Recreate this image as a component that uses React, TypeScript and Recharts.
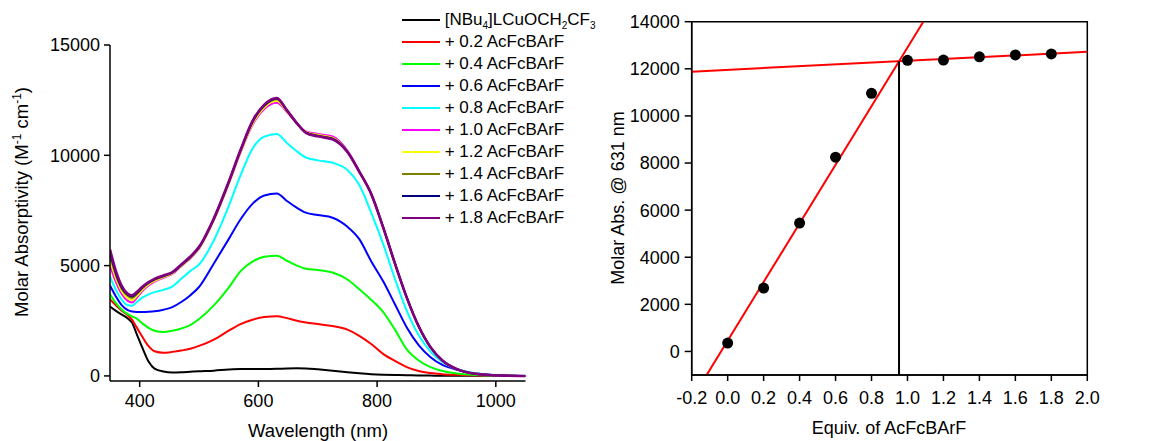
import React from "react";
import {
  LineChart,
  ComposedChart,
  Line,
  Scatter,
  XAxis,
  YAxis,
  Legend,
  Label,
  ReferenceArea,
} from "recharts";

// ---- left panel: UV-vis titration spectra ----
const wavelength = [
  350, 360, 370, 380, 387, 395, 405, 415, 425, 440, 455, 470, 485, 500, 525,
  550, 570, 590, 610, 631, 648, 665, 680, 700, 725, 750, 770, 790, 810, 830,
  850, 870, 890, 910, 935, 960, 990, 1020, 1050,
];

const eq00 = [3150, 2950, 2780, 2600, 2420, 1900, 1250, 650, 330, 200, 160, 170, 190, 210, 240, 290, 310, 310, 310, 320, 340, 350, 340, 300, 240, 170, 120, 80, 55, 40, 30, 20, 15, 10, 8, 5, 3, 0, 0];
const eq02 = [3470, 3200, 2950, 2750, 2550, 2200, 1750, 1350, 1120, 1050, 1090, 1150, 1230, 1360, 1650, 2050, 2350, 2550, 2670, 2700, 2620, 2500, 2420, 2350, 2260, 2100, 1820, 1450, 1000, 680, 400, 220, 130, 80, 50, 30, 15, 5, 0];
const eq04 = [3700, 3300, 3000, 2800, 2700, 2600, 2370, 2180, 2050, 1990, 2050, 2150, 2300, 2580, 3200, 4000, 4750, 5180, 5400, 5450, 5220, 5000, 4860, 4800, 4690, 4370, 3930, 3450, 2900, 2100, 1200, 700, 400, 220, 110, 50, 20, 5, 0];
const eq06 = [4100, 3600, 3200, 2980, 2920, 2900, 2900, 2910, 2930, 3000, 3120, 3350, 3650, 4030, 5100, 6200, 7100, 7800, 8180, 8270, 7930, 7620, 7400, 7290, 7170, 6760, 6200, 5200, 4300, 3250, 2200, 1400, 850, 500, 280, 130, 50, 15, 0];
const eq08 = [4500, 3900, 3450, 3200, 3180, 3350, 3560, 3700, 3800, 3900, 4050, 4400, 4750, 5050, 6150, 7700, 9100, 10300, 10850, 10970, 10560, 10180, 9900, 9770, 9660, 9330, 8650, 7400, 6000, 4400, 2950, 1850, 1100, 620, 300, 140, 50, 15, 0];
const eq10 = [5000, 4250, 3700, 3400, 3330, 3540, 3860, 4100, 4270, 4450, 4620, 4970, 5320, 5770, 7060, 8700, 10130, 11370, 12100, 12380, 11960, 11440, 11080, 10970, 10850, 10210, 9290, 8280, 6760, 5100, 3550, 2250, 1300, 700, 300, 120, 40, 10, 0];
const eq12 = [5250, 4420, 3830, 3520, 3430, 3620, 3920, 4150, 4310, 4480, 4650, 4990, 5340, 5790, 7080, 8720, 10160, 11420, 12170, 12470, 11990, 11440, 11060, 10930, 10790, 10180, 9270, 8260, 6750, 5100, 3550, 2250, 1300, 700, 300, 120, 40, 10, 0];
const eq14 = [5450, 4550, 3930, 3620, 3530, 3700, 3980, 4200, 4350, 4510, 4670, 5010, 5360, 5810, 7100, 8750, 10200, 11480, 12230, 12540, 12020, 11440, 11040, 10900, 10760, 10170, 9260, 8250, 6750, 5100, 3550, 2250, 1300, 700, 300, 120, 40, 10, 0];
const eq16 = [5600, 4650, 4000, 3680, 3600, 3760, 4020, 4230, 4380, 4530, 4690, 5030, 5380, 5830, 7120, 8780, 10230, 11520, 12270, 12580, 12040, 11450, 11030, 10880, 10740, 10160, 9260, 8250, 6750, 5100, 3550, 2250, 1300, 700, 300, 120, 40, 10, 0];
const eq18 = [5730, 4750, 4070, 3720, 3650, 3800, 4050, 4250, 4400, 4550, 4700, 5050, 5400, 5850, 7150, 8800, 10250, 11550, 12300, 12600, 12050, 11450, 11020, 10860, 10720, 10150, 9250, 8250, 6750, 5100, 3550, 2250, 1300, 700, 300, 120, 40, 10, 0];

const spectra = [eq00, eq02, eq04, eq06, eq08, eq10, eq12, eq14, eq16, eq18];
const seriesNames = [
  "[NBu4]LCuOCH2CF3",
  "+ 0.2 AcFcBArF",
  "+ 0.4 AcFcBArF",
  "+ 0.6 AcFcBArF",
  "+ 0.8 AcFcBArF",
  "+ 1.0 AcFcBArF",
  "+ 1.2 AcFcBArF",
  "+ 1.4 AcFcBArF",
  "+ 1.6 AcFcBArF",
  "+ 1.8 AcFcBArF",
];
const seriesColors = [
  "#000000", "#ff0000", "#00ff00", "#0000ff", "#00ffff",
  "#ff00ff", "#ffff00", "#808000", "#000080", "#800080",
];
const wlTicks = [400, 600, 800, 1000];
const epsTicks = [0, 5000, 10000, 15000];

// ---- right panel: titration curve ----
const equiv = [0.0, 0.2, 0.4, 0.6, 0.8, 1.0, 1.2, 1.4, 1.6, 1.8];
const absAt631 = [356, 2690, 5450, 8250, 10960, 12360, 12370, 12510, 12590, 12630];
const riseX = [-0.117, 1.088];
const riseY = [-1000, 14000];
const plateauX = [-0.2, 2.0];
const plateauY = [11880, 12720];
const endX = [0.953, 0.953];
const endY = [-1000, 12320];
const equivTicks = [-0.2, 0.0, 0.2, 0.4, 0.6, 0.8, 1.0, 1.2, 1.4, 1.6, 1.8, 2.0];
const absTicks = [0, 2000, 4000, 6000, 8000, 10000, 12000, 14000];

const FONT = "'Liberation Sans', Arial, sans-serif";
const tickStyle = { fontSize: 18, fill: "#000", fontFamily: FONT };

const spectraRows = wavelength.map((wl, i) => {
  const row: Record<string, number> = { wl };
  spectra.forEach((s, k) => (row["s" + k] = s[i]));
  return row;
});

const pairs = (xs: number[], ys: number[]) => xs.map((x, i) => ({ x, y: ys[i] }));
const points = pairs(equiv, absAt631);
const riseLine = pairs(riseX, riseY);
const plateauLine = pairs(plateauX, plateauY);
const endLine = pairs(endX, endY);

// digits after a letter or "]" become subscripts
function chem(s: string) {
  const parts = s.split(/(?<=[A-Za-z\]])(\d+)/);
  return parts.map((p, i) =>
    i % 2 === 1 ? (
      <sub key={i} style={{ fontSize: 10, lineHeight: 0, verticalAlign: -4 }}>
        {p}
      </sub>
    ) : (
      <React.Fragment key={i}>{p}</React.Fragment>
    )
  );
}

function SpectraLegend() {
  return (
    <div style={{ fontFamily: FONT, fontSize: 17, color: "#000", whiteSpace: "nowrap" }}>
      {seriesNames.map((n, i) => (
        <div key={n} style={{ display: "flex", alignItems: "center", height: 22 }}>
          <span
            style={{
              display: "inline-block",
              width: 38,
              height: 2,
              background: seriesColors[i],
              marginRight: 5,
            }}
          />
          <span>{chem(n)}</span>
        </div>
      ))}
    </div>
  );
}

export default function App() {
  return (
    <div
      style={{
        position: "absolute",
        left: 0,
        top: 0,
        width: 1156,
        height: 441,
        background: "#fff",
        fontFamily: FONT,
      }}
    >
      <div style={{ position: "absolute", left: 0, top: 0 }}>
        <LineChart
          width={600}
          height={441}
          data={spectraRows}
          margin={{ top: 45, right: 74.5, bottom: 10, left: 10 }}
        >
          <XAxis
            dataKey="wl"
            type="number"
            domain={[350, 1050]}
            ticks={wlTicks}
            allowDataOverflow
            height={50}
            tickSize={6}
            tickMargin={7}
            tick={tickStyle}
            stroke="#000"
            strokeWidth={1.5}
          >
            <Label
              content={() => (
                <text x={318} y={437} textAnchor="middle" fontSize={18.5} fill="#000" fontFamily={FONT}>
                  Wavelength (nm)
                </text>
              )}
            />
          </XAxis>
          <YAxis
            type="number"
            domain={[-230, 15000]}
            ticks={epsTicks}
            allowDataOverflow
            width={100}
            tickSize={6}
            tickMargin={4}
            tick={tickStyle}
            stroke="#000"
            strokeWidth={1.5}
          >
            <Label
              content={() => (
                <text
                  transform="translate(28,202) rotate(-90)"
                  textAnchor="middle"
                  fontSize={18.5}
                  fill="#000"
                  fontFamily={FONT}
                >
                  Molar Absorptivity (M
                  <tspan dy={-7} fontSize={12}>-1</tspan>
                  <tspan dy={7}> cm</tspan>
                  <tspan dy={-7} fontSize={12}>-1</tspan>
                  <tspan dy={7}>)</tspan>
                </text>
              )}
            />
          </YAxis>
          <Legend
            layout="vertical"
            align="center"
            verticalAlign="middle"
            wrapperStyle={{ top: 9, left: 401.7, width: "auto" }}
            content={() => <SpectraLegend />}
          />
          {spectra.map((_, k) => (
            <Line
              key={k}
              dataKey={"s" + k}
              name={seriesNames[k]}
              type="monotone"
              stroke={seriesColors[k]}
              strokeWidth={k === 9 ? 2.6 : 2}
              dot={false}
              isAnimationActive={false}
            />
          ))}
        </LineChart>
      </div>

      <div style={{ position: "absolute", left: 560, top: 0 }}>
        <ComposedChart
          width={596}
          height={441}
          margin={{ top: 21.7, right: 68.7, bottom: 10, left: 51.7 }}
        >
          <XAxis
            dataKey="x"
            type="number"
            domain={[-0.2, 2.0]}
            ticks={equivTicks}
            tickFormatter={(v: number) => v.toFixed(1)}
            allowDataOverflow
            height={56}
            tickSize={6}
            tickMargin={10}
            tick={tickStyle}
            stroke="#000"
            strokeWidth={1.5}
          >
            <Label
              content={() => (
                <text x={329} y={434} textAnchor="middle" fontSize={18} fill="#000" fontFamily={FONT}>
                  Equiv. of AcFcBArF
                </text>
              )}
            />
          </XAxis>
          <YAxis
            type="number"
            domain={[-1000, 14000]}
            ticks={absTicks}
            allowDataOverflow
            width={80}
            tickSize={7}
            tickMargin={5}
            tick={tickStyle}
            stroke="#000"
            strokeWidth={1.5}
          >
            <Label
              content={() => (
                <text
                  transform="translate(64,198) rotate(-90)"
                  textAnchor="middle"
                  fontSize={18}
                  fill="#000"
                  fontFamily={FONT}
                >
                  Molar Abs. @ 631 nm
                </text>
              )}
            />
          </YAxis>
          <ReferenceArea
            x1={-0.2}
            x2={2.0}
            y1={-1000}
            y2={14000}
            fill="none"
            stroke="#000"
            strokeWidth={1.5}
            ifOverflow="visible"
          />
          <Line data={riseLine} dataKey="y" type="linear" stroke="#ff0000" strokeWidth={2} dot={false} isAnimationActive={false} />
          <Line data={plateauLine} dataKey="y" type="linear" stroke="#ff0000" strokeWidth={2} dot={false} isAnimationActive={false} />
          <Line data={endLine} dataKey="y" type="linear" stroke="#000" strokeWidth={2} dot={false} isAnimationActive={false} />
          <Scatter
            data={points}
            dataKey="y"
            fill="#000"
            isAnimationActive={false}
            shape={(p: any) => <circle cx={p.cx} cy={p.cy} r={5.5} fill="#000" />}
          />
        </ComposedChart>
      </div>
    </div>
  );
}
